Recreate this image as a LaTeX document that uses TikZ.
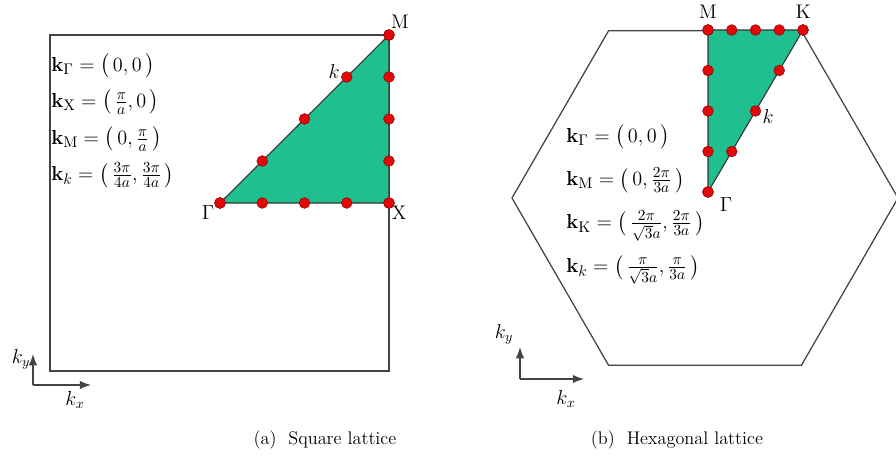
\documentclass[tikz,border=0pt]{standalone}
\usepackage{amsmath}
\usepackage{xcolor}
\usepackage{tikz}
\usetikzlibrary{calc,arrows.meta}
\definecolor{bzgreen}{HTML}{1FBF8F}
\definecolor{bzred}{HTML}{E00808}
\definecolor{bzdark}{HTML}{8A0000}
\definecolor{bzline}{HTML}{444444}

\begin{document}
\begin{tikzpicture}[x=0.025cm, y=-0.025cm,
  bzone/.style={draw=bzline, line width=0.9pt},
  wedge/.style={draw=bzline!80!black, line width=0.8pt, fill=bzgreen},
  kpt/.style={circle, fill=bzred, draw=bzdark, line width=0.3pt, minimum size=0.27cm, inner sep=0pt},
  symlbl/.style={font=\fontsize{14}{16}\selectfont, inner sep=1pt},
  kvec/.style={anchor=west, font=\fontsize{15}{17}\selectfont, inner sep=0pt},
  axis/.style={draw=bzline, line width=0.9pt, -{Latex[length=8pt,width=6pt]}},
  caption/.style={font=\fontsize{13}{15}\selectfont}]
  \useasboundingbox (0,0) rectangle (896,462);

  % (a) square lattice
  \coordinate (sqTL) at (50,35);
  \coordinate (sqBR) at (389,371);
  \draw[bzone] (sqTL) rectangle (sqBR);
  \coordinate (G) at (220,203);
  \coordinate (X) at (389,203);
  \coordinate (M) at (389,35);
  \filldraw[wedge] (G) -- (X) -- (M) -- cycle;
  \foreach \t in {0,1,2,3,4} {
    \node[kpt] (gx\t) at ($(G)!\t/4!(X)$) {};
    \node[kpt] (xm\t) at ($(X)!\t/4!(M)$) {};
    \node[kpt] (gm\t) at ($(G)!\t/4!(M)$) {};
  }
  \node[symlbl] (lblM) at (400,22) {M};
  \node[symlbl] (lblX) at (399,213) {X};
  \node[symlbl] (lblG) at (208,213) {$\Gamma$};
  \node[symlbl] (lblk) at (334,71) {$k$};
  \node[kvec] (kaG) at (51,66) {$\mathbf{k}_{\Gamma} = \bigl(\,0,0\,\bigr)$};
  \node[kvec] (kaX) at (51,102) {$\mathbf{k}_{\mathrm{X}} = \bigl(\,\tfrac{\pi}{a},0\,\bigr)$};
  \node[kvec] (kaM) at (51,139) {$\mathbf{k}_{\mathrm{M}} = \bigl(\,0,\tfrac{\pi}{a}\,\bigr)$};
  \node[kvec] (kak) at (51,175) {$\mathbf{k}_{k} = \bigl(\,\tfrac{3\pi}{4a},\tfrac{3\pi}{4a}\,\bigr)$};
  \coordinate (oa) at (33,385);
  \coordinate (xa) at (91,385);
  \coordinate (ya) at (33,354);
  \draw[axis] (oa) -- (xa);
  \draw[axis] (oa) -- (ya);
  \node[symlbl] (kxa) at (75,400) {$k_x$};
  \node[symlbl] (kya) at (21,359) {$k_y$};
  \node[caption] (capa) at (325,440) {(a)\ \ Square lattice};

  % (b) hexagonal lattice
  \coordinate (hc) at (705,198);
  \foreach \ang [count=\i] in {0,60,120,180,240,300}
    \coordinate (h\i) at ($(hc)+(\ang:193 and -193)$);
  \draw[bzone] (h1) -- (h2) -- (h3) -- (h4) -- (h5) -- (h6) -- cycle;
  \coordinate (Gb) at (708,192);
  \coordinate (Mb) at (708,30);
  \coordinate (Kb) at (803,30);
  \filldraw[wedge] (Gb) -- (Mb) -- (Kb) -- cycle;
  \foreach \t in {0,1,2,3,4} {
    \node[kpt] (mk\t) at ($(Mb)!\t/4!(Kb)$) {};
    \node[kpt] (gmb\t) at ($(Gb)!\t/4!(Mb)$) {};
    \node[kpt] (gk\t) at ($(Gb)!\t/4!(Kb)$) {};
  }
  \node[symlbl] (lblMb) at (708,12) {M};
  \node[symlbl] (lblKb) at (803,12) {K};
  \node[symlbl] (lblGb) at (726,205) {$\Gamma$};
  \node[symlbl] (lblkb) at (768,116) {$k$};
  \node[kvec] (kbG) at (566,137) {$\mathbf{k}_{\Gamma} = \bigl(\,0,0\,\bigr)$};
  \node[kvec] (kbM) at (566,180) {$\mathbf{k}_{\mathrm{M}} = \bigl(\,0,\tfrac{2\pi}{3a}\,\bigr)$};
  \node[kvec] (kbK) at (566,226) {$\mathbf{k}_{\mathrm{K}} = \bigl(\,\tfrac{2\pi}{\sqrt{3}a},\tfrac{2\pi}{3a}\,\bigr)$};
  \node[kvec] (kbk) at (566,270) {$\mathbf{k}_{k} = \bigl(\,\tfrac{\pi}{\sqrt{3}a},\tfrac{\pi}{3a}\,\bigr)$};
  \coordinate (ob) at (520,379);
  \coordinate (xb) at (584,379);
  \coordinate (yb) at (520,347);
  \draw[axis] (ob) -- (xb);
  \draw[axis] (ob) -- (yb);
  \node[symlbl] (kxb) at (566,399) {$k_x$};
  \node[symlbl] (kyb) at (504,334) {$k_y$};
  \node[caption] (capb) at (677,440) {(b)\ \ Hexagonal lattice};
\end{tikzpicture}
\end{document}
